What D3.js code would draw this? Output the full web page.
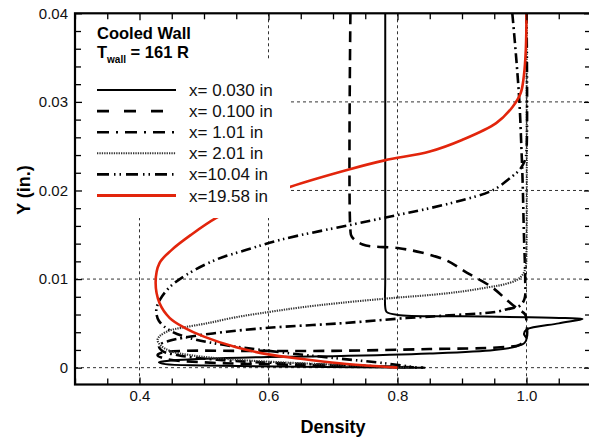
<!DOCTYPE html>
<html><head><meta charset="utf-8">
<script src="https://cdn.jsdelivr.net/npm/d3@7"></script>
<style>html,body{margin:0;padding:0;background:#fff;overflow:hidden}</style>
</head><body>
<script>
// ---- data: [density, Y (in.)] ----
const s030 = [[0.781,0.040],[0.781,0.010],[0.781,0.0068],[0.783,0.0063],[0.80,0.00595],[0.90,0.0058],[1.00,0.0057],[1.06,0.0056],[1.087,0.0055],[1.05,0.0050],[1.0,0.0043],[0.996,0.0038],[1.0,0.0033],[0.997,0.0028],[0.985,0.0024],[0.95,0.0020],[0.85,0.0016],[0.7,0.0013],[0.6,0.0012],[0.5,0.0010],[0.45,0.0008],[0.43,0.0006],[0.44,0.0004],[0.5,0.00025],[0.65,0.0001],[0.843,0.0]];
const s100 = [[0.727,0.040],[0.727,0.0155],[0.729,0.0148],[0.746,0.0139],[0.80,0.0135],[0.837,0.0130],[0.876,0.0121],[0.908,0.0107],[0.946,0.0091],[0.97,0.0076],[0.985,0.0067],[0.998,0.0060],[1.0,0.0050],[1.0,0.0034],[0.99,0.0026],[0.96,0.0023],[0.85,0.0021],[0.7,0.0019],[0.55,0.0019],[0.47,0.0019],[0.435,0.0017],[0.428,0.0014],[0.44,0.0010],[0.5,0.0006],[0.65,0.0003],[0.8,0.0001],[0.84,0.0]];
const s101 = [[0.978,0.040],[0.984,0.035],[0.989,0.030],[0.992,0.025],[0.994,0.021],[0.996,0.015],[0.998,0.010],[0.997,0.0078],[0.99,0.0070],[0.97,0.0066],[0.953,0.0063],[0.88,0.0059],[0.814,0.0056],[0.71,0.0050],[0.60,0.0045],[0.529,0.0040],[0.47,0.0034],[0.445,0.0030],[0.43,0.0025],[0.435,0.0019],[0.46,0.0014],[0.52,0.0009],[0.62,0.0005],[0.75,0.0002],[0.82,0.0]];
const s201 = [[1.0,0.040],[1.0,0.013],[0.999,0.0115],[0.995,0.0106],[0.985,0.0099],[0.965,0.0094],[0.943,0.0091],[0.9,0.0086],[0.85,0.0082],[0.798,0.0079],[0.71,0.0073],[0.65,0.0068],[0.602,0.0063],[0.55,0.0057],[0.504,0.0050],[0.465,0.0045],[0.447,0.0042],[0.432,0.0036],[0.428,0.0031],[0.433,0.0025],[0.447,0.0019],[0.48,0.0014],[0.55,0.0009],[0.65,0.0005],[0.75,0.0002],[0.82,0.0]];
const s1004 = [[1.0,0.040],[1.0,0.0245],[0.998,0.0235],[0.99,0.0224],[0.978,0.0216],[0.947,0.0200],[0.90,0.0189],[0.85,0.0180],[0.798,0.0172],[0.726,0.0161],[0.622,0.0145],[0.566,0.0133],[0.519,0.0122],[0.473,0.0105],[0.447,0.0091],[0.432,0.0077],[0.426,0.0065],[0.43,0.0053],[0.445,0.0043],[0.47,0.0035],[0.52,0.0027],[0.6,0.0019],[0.7,0.0011],[0.78,0.0005],[0.83,0.0]];
const s1958 = [[1.0,0.040],[0.999,0.036],[0.996,0.033],[0.991,0.031],[0.978,0.0294],[0.953,0.0276],[0.90,0.0257],[0.85,0.0244],[0.78,0.0234],[0.726,0.0224],[0.633,0.0204],[0.57,0.0187],[0.519,0.0169],[0.48,0.0150],[0.45,0.0133],[0.431,0.0118],[0.425,0.0096],[0.431,0.0073],[0.447,0.0056],[0.47,0.0045],[0.50,0.0035],[0.55,0.0023],[0.60,0.0015],[0.65,0.0010],[0.71,0.0005],[0.8,0.0]];
const seriesLabels = ["x= 0.030 in","x= 0.100 in","x= 1.01 in","x= 2.01 in","x=10.04 in","x=19.58 in"];
const xMajor = [0.4,0.6,0.8,1.0];
const yMajor = [0,0.01,0.02,0.03,0.04];
const xMinor = [0.3,0.35,0.45,0.5,0.55,0.65,0.7,0.75,0.85,0.9,0.95,1.05];
const yMinor = [0.002,0.004,0.006,0.008,0.012,0.014,0.016,0.018,0.022,0.024,0.026,0.028,0.032,0.034,0.036,0.038];
const xGrid = [0.4,0.6,0.8,1.0];
const yGrid = [0,0.01,0.02,0.03];

const W=589,H=443;
const FONT="'Liberation Sans', Arial, Helvetica, sans-serif";
const svg=d3.select("body").append("svg").attr("width",W).attr("height",H).style("font-family",FONT);
const PL=75,PR=591,PT=13.3,PB=384.5;
const x=d3.scaleLinear().domain([0.3,1.1]).range([PL,PR]);
const y=d3.scaleLinear().domain([-0.0019,0.04]).range([PB,PT]);

// grid
const g=svg.append("g");
g.selectAll(".gx").data(xGrid).join("line").attr("x1",d=>x(d)).attr("x2",d=>x(d)).attr("y1",PT).attr("y2",PB)
 .attr("stroke","#333").attr("stroke-width",1).attr("stroke-dasharray","3,3");
g.selectAll(".gy").data(yGrid).join("line").attr("y1",d=>y(d)).attr("y2",d=>y(d)).attr("x1",PL).attr("x2",PR)
 .attr("stroke","#333").attr("stroke-width",1).attr("stroke-dasharray","3,3");

const styles=[
 {data:s030,color:"#000",w:2,dash:null,ldash:null},
 {data:s100,color:"#000",w:2.6,dash:"11,7",ldash:"12,15"},
 {data:s101,color:"#000",w:2.6,dash:"10,4,2,4",ldash:"12,7,2,7"},
 {data:s201,color:"#333",w:2.1,dash:"1.3,1.1",ldash:"1.3,1.1"},
 {data:s1004,color:"#000",w:2.6,dash:"10,4,1.5,3.5,1.5,4",ldash:"12,5,1.5,4,1.5,5"},
 {data:s1958,color:"#e2250c",w:2.6,dash:null,ldash:null}
];
const line=d3.line().x(d=>x(d[0])).y(d=>y(d[1])).curve(d3.curveCatmullRom.alpha(0.5));
svg.append("clipPath").attr("id","c").append("rect").attr("x",PL).attr("y",PT).attr("width",PR-PL).attr("height",PB-PT);
const cg=svg.append("g").attr("clip-path","url(#c)");
styles.forEach(s=>{
 cg.append("path").attr("d",line(s.data)).attr("fill","none").attr("stroke",s.color).attr("stroke-width",s.w)
  .attr("stroke-dasharray",s.dash).attr("stroke-linejoin","round");
});

// white legend panels
svg.append("rect").attr("x",PL+1).attr("y",PT+1).attr("width",165).attr("height",48).attr("fill","#fff");
svg.append("rect").attr("x",PL+1).attr("y",60).attr("width",214).attr("height",158).attr("fill","#fff");

// axes
const fmtY=d=>d===0?"0":d.toFixed(2);
const ax=svg.append("g").attr("font-family",FONT);
ax.append("g").attr("transform",`translate(0,${PB})`).call(d3.axisBottom(x).tickValues(xMajor).tickSize(-7).tickSizeOuter(0).tickPadding(6).tickFormat(d3.format(".1f")));
ax.append("g").attr("transform",`translate(0,${PB})`).call(d3.axisBottom(x).tickValues(xMinor).tickSize(-6).tickSizeOuter(0).tickFormat(""));
ax.append("g").attr("transform",`translate(0,${PT})`).call(d3.axisTop(x).tickValues(xMajor).tickSize(-7).tickSizeOuter(0).tickFormat(""));
ax.append("g").attr("transform",`translate(0,${PT})`).call(d3.axisTop(x).tickValues(xMinor).tickSize(-6).tickSizeOuter(0).tickFormat(""));
ax.append("g").attr("transform",`translate(${PL},0)`).call(d3.axisLeft(y).tickValues(yMajor).tickSize(-7).tickSizeOuter(0).tickPadding(7).tickFormat(fmtY));
ax.append("g").attr("transform",`translate(${PL},0)`).call(d3.axisLeft(y).tickValues(yMinor).tickSize(-6).tickSizeOuter(0).tickFormat(""));
ax.append("g").attr("transform",`translate(${PR},0)`).call(d3.axisRight(y).tickValues(yMajor).tickSize(-7).tickSizeOuter(0).tickFormat(""));
ax.append("g").attr("transform",`translate(${PR},0)`).call(d3.axisRight(y).tickValues(yMinor).tickSize(-6).tickSizeOuter(0).tickFormat(""));
ax.selectAll(".domain").remove();
ax.selectAll(".tick line").attr("stroke","#000").attr("stroke-width",1.3);
ax.selectAll(".tick text").attr("font-size",15).attr("fill","#111").attr("font-family",FONT);
svg.append("rect").attr("x",PL).attr("y",PT).attr("width",PR-PL).attr("height",PB-PT).attr("fill","none").attr("stroke","#000").attr("stroke-width",2.2);

// axis titles
svg.append("text").attr("x",333).attr("y",433).attr("text-anchor","middle").attr("font-size",18).attr("font-weight","bold").text("Density");
svg.append("text").attr("transform","translate(30,190) rotate(-90)").attr("text-anchor","middle").attr("font-size",18).attr("font-weight","bold").text("Y (in.)");

// annotation
svg.append("text").attr("x",97).attr("y",39).attr("font-size",16.5).attr("font-weight","bold").text("Cooled Wall");
const tw=svg.append("text").attr("x",97).attr("y",58).attr("font-size",16.5).attr("font-weight","bold");
tw.append("tspan").text("T");
tw.append("tspan").attr("font-size",10).attr("dy",5).text("wall");
tw.append("tspan").attr("dy",-5).text(" = 161 R");

// legend
const lg=svg.append("g");
styles.forEach((s,i)=>{
 const yy=90+i*21.1;
 lg.append("line").attr("x1",97).attr("x2",176).attr("y1",yy).attr("y2",yy).attr("stroke",s.color)
  .attr("stroke-width",s.w+(i===5?0.4:0)).attr("stroke-dasharray",s.ldash);
 lg.append("text").attr("x",189).attr("y",yy+6).attr("font-size",17).attr("fill","#111").text(seriesLabels[i]);
});
</script>
</body></html>
